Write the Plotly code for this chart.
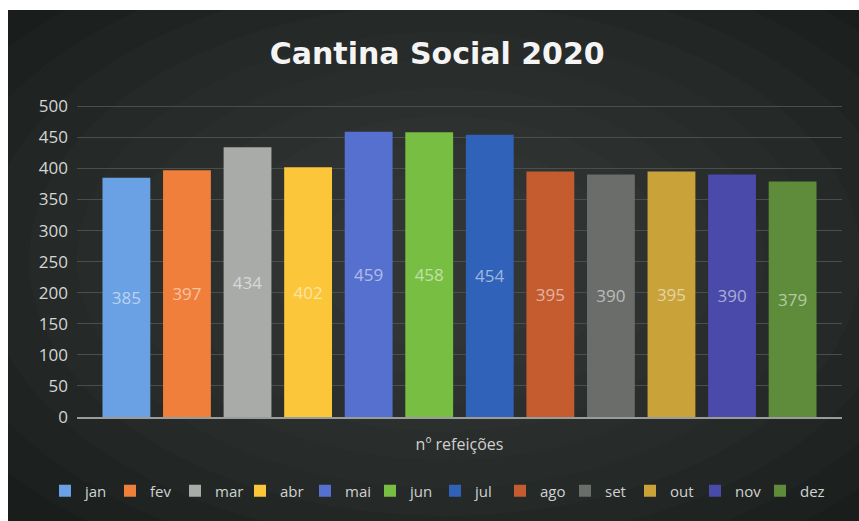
import plotly.graph_objects as go

# ---- data ----
months = ["jan", "fev", "mar", "abr", "mai", "jun", "jul", "ago", "set", "out", "nov", "dez"]
meals = [385, 397, 434, 402, 459, 458, 454, 395, 390, 395, 390, 379]
category = ["nº refeições"]
colors = ["#6aa0e4", "#ef7f3a", "#a9aba9", "#fcc63a", "#5670d0", "#78be42",
          "#2f62b8", "#c45c30", "#6b6d6b", "#c9a23a", "#4a4aaa", "#5f8c3a"]
y_ticks = list(range(0, 501, 50))

W, H = 859, 521
L, R, T, B = 77, 842, 105, 417  # plot area in pixels


def px_x(p):
    return (p - L) / (R - L)


def px_y(p):
    return (B - p) / (B - T)


fig = go.Figure()
for m, v, c in zip(months, meals, colors):
    fig.add_trace(go.Bar(
        name=m, x=category, y=[v], marker=dict(color=c, line=dict(width=0)),
        text=[str(v)], textposition="inside", insidetextanchor="middle",
        textangle=0, constraintext="none",
        textfont=dict(color="rgba(255,255,255,0.55)", size=17, family="Open Sans"),
        hoverinfo="name+y",
    ))

shapes = []
# soft radial lightening of the background
cx, cy = 445, 260
for i in range(10):
    rx = 560 - i * 48
    ry = 340 - i * 28
    shapes.append(dict(type="circle", xref="paper", yref="paper", layer="below",
                       x0=px_x(cx - rx), x1=px_x(cx + rx), y0=px_y(cy + ry), y1=px_y(cy - ry),
                       fillcolor="#9aa09c", opacity=0.028, line=dict(width=0)))
# white photo border (left and top)
shapes.append(dict(type="rect", xref="paper", yref="paper", layer="above",
                   x0=px_x(-5), x1=px_x(8), y0=px_y(H + 5), y1=px_y(-5),
                   fillcolor="white", line=dict(width=0)))
shapes.append(dict(type="rect", xref="paper", yref="paper", layer="above",
                   x0=px_x(-5), x1=px_x(W + 5), y0=px_y(10), y1=px_y(-5),
                   fillcolor="white", line=dict(width=0)))

fig.update_layout(
    width=W, height=H,
    margin=dict(l=L, r=W - R, t=T, b=H - B, pad=0, autoexpand=False),
    paper_bgcolor="#191e1c", plot_bgcolor="rgba(0,0,0,0)",
    barmode="group", bargap=0.05, bargroupgap=0.21,
    title=dict(text="<b>Cantina Social 2020</b>", x=0.509, xanchor="center",
               y=1 - 53 / H, yanchor="middle",
               font=dict(family="DejaVu Sans", size=30, color="#f4f4f4")),
    font=dict(family="Open Sans", color="#d4d6d4"),
    showlegend=True,
    legend=dict(orientation="h", x=px_x(45), xanchor="left", y=px_y(491), yanchor="middle",
                font=dict(size=15, color="#d0d2d0"), itemwidth=30, entrywidth=20,
                traceorder="normal", bgcolor="rgba(0,0,0,0)"),
    shapes=shapes,
)
fig.update_yaxes(range=[0, 502], tickvals=y_ticks, showgrid=True, gridcolor="#4a4f4c",
                 gridwidth=1, zeroline=False, showline=False,
                 tickfont=dict(size=17, color="#d4d6d4"), ticklabelstandoff=8)
fig.update_xaxes(showline=True, linecolor="#9a9c9a", linewidth=2, showgrid=False,
                 tickfont=dict(size=16, color="#cfd1cf"), ticklabelstandoff=12)

fig.write_html("out.html")
